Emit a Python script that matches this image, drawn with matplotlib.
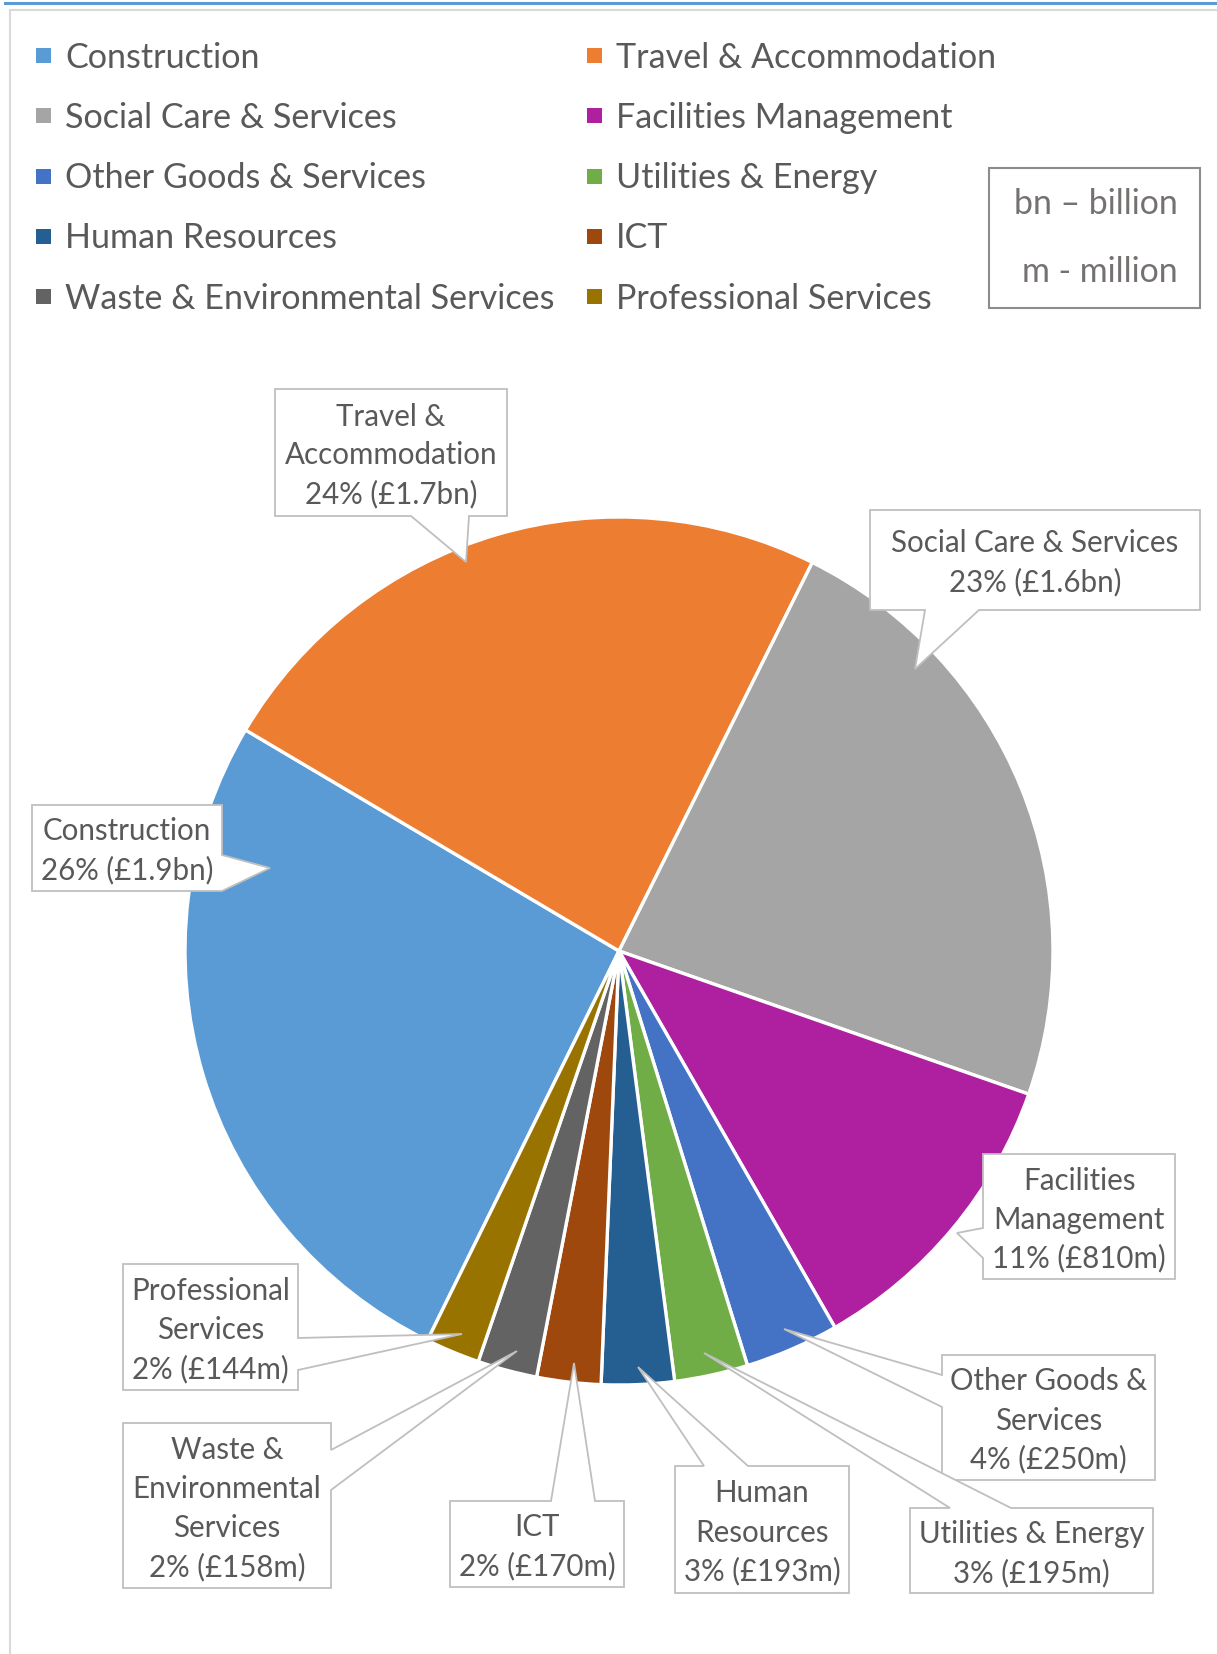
import matplotlib
matplotlib.use("Agg")
import matplotlib.pyplot as plt
from matplotlib.patches import Rectangle, Polygon
from matplotlib.lines import Line2D

# ---------------- data ----------------
categories = ["Construction", "Travel & Accommodation", "Social Care & Services",
              "Facilities Management", "Other Goods & Services", "Utilities & Energy",
              "Human Resources", "ICT", "Waste & Environmental Services",
              "Professional Services"]
spend_m = [1870, 1700, 1640, 810, 250, 195, 193, 170, 158, 144]
colors = ["#5B9BD5", "#ED7D31", "#A5A5A5", "#AE20A0", "#4472C4",
          "#70AD47", "#255E91", "#9E480E", "#636363", "#997300"]
label_names = [["Construction"], ["Travel &", "Accommodation"], ["Social Care & Services"],
               ["Facilities", "Management"], ["Other Goods &", "Services"],
               ["Utilities & Energy"], ["Human", "Resources"], ["ICT"],
               ["Waste &", "Environmental", "Services"], ["Professional", "Services"]]
units_lines = ["bn \u2013 billion", "m - million"]

# ---------------- layout ----------------
W, H = 1217, 1654
FONT = ["Lato", "DejaVu Sans"]
TXT = "#595959"
plt.rcParams["font.family"] = FONT
DY = 3  # small downward text shift (pixels)

def Y(y):
    return H - y

fig = plt.figure(figsize=(W / 100, H / 100), dpi=100)
ax = fig.add_axes([0, 0, 1, 1])

# pie
wedges, _ = ax.pie(spend_m, colors=colors, startangle=90 - 206.2, counterclock=False,
                   center=(619, Y(951)), radius=434,
                   wedgeprops=dict(edgecolor="white", linewidth=2.4))
ax.set_xlim(0, W)
ax.set_ylim(0, H)
ax.set_aspect("auto")
ax.axis("off")

fig.canvas.draw()
rend = fig.canvas.get_renderer()

def fit(s, target_px, ref=20.0):
    t = ax.text(0, 0, s, fontsize=ref, family=FONT)
    w = t.get_window_extent(renderer=rend).width
    t.remove()
    return ref * target_px / w

fs_leg = fit("Waste & Environmental Services", 491)
fs_lab = (fit("Environmental", 189) + fit("Accommodation", 212)) / 2
fs_unit = fit("bn \u2013 billion", 165)

# chart frame lines
ax.add_line(Line2D([5, W], [Y(2.5), Y(2.5)], color="#5B9BD5", lw=2.2, zorder=1))
ax.add_line(Line2D([10, W], [Y(9.5), Y(9.5)], color="#D9D9D9", lw=1.5, zorder=1))
ax.add_line(Line2D([10, 10], [Y(9.5), 0], color="#D9D9D9", lw=1.5, zorder=1))

# legend (row-wise, two columns)
for i, (name, c) in enumerate(zip(categories, colors)):
    row, col = divmod(i, 2)
    yc = 55.5 + row * 60.3
    mx = 36 if col == 0 else 587
    ax.add_patch(Rectangle((mx, Y(yc) - 7.5), 15, 15, facecolor=c, edgecolor="none", zorder=3))
    ax.text(mx + 29, Y(yc + 2), name, fontsize=fs_leg, color=TXT, va="center", ha="left", zorder=3)

# units box
ax.add_patch(Rectangle((989, Y(308)), 211, 140, facecolor="white", edgecolor="#8C8C8C",
                       lw=1.5, zorder=3))
for s, yc in zip(units_lines, [204, 272]):
    ax.text(1178, Y(yc), s, fontsize=fs_unit, color="#767171", va="center", ha="right", zorder=4)

# callout layout: box (x0, y0, x1, y1), edge, base points, tip  (pixel coords)
callouts = [
    ((32, 805, 222, 891), "right", [(222, 855), (222, 891)], (270, 868)),
    ((275, 389, 507, 516), "bottom", [(411, 516), (469, 516)], (466, 562)),
    ((870, 510, 1200, 610), "bottom", [(925, 610), (979, 610)], (915, 669)),
    ((983, 1154, 1175, 1279), "left", [(983, 1228), (983, 1258)], (957, 1233)),
    ((942, 1355, 1155, 1480), "left", [(942, 1375), (942, 1407)], (784, 1329)),
    ((910, 1508, 1153, 1593), "top", [(950, 1508), (1011, 1508)], (704, 1353)),
    ((675, 1466, 849, 1593), "top", [(704, 1466), (748, 1466)], (638, 1367)),
    ((450, 1501, 624, 1587), "top", [(551, 1501), (595, 1501)], (574, 1363)),
    ((123, 1423, 331, 1588), "right", [(331, 1450), (331, 1490)], (517, 1351)),
    ((123, 1264, 298, 1390), "right", [(298, 1338), (298, 1370)], (462, 1334)),
]

def callout_poly(box, edge, bases, tip):
    x0, y0, x1, y1 = box
    pts = [(x0, y0)]
    def ins(key, rev):
        b = sorted(bases, key=key, reverse=rev)
        return [b[0], tip, b[1]]
    if edge == "top":
        pts += ins(lambda p: p[0], False)
    pts.append((x1, y0))
    if edge == "right":
        pts += ins(lambda p: p[1], False)
    pts.append((x1, y1))
    if edge == "bottom":
        pts += ins(lambda p: p[0], True)
    pts.append((x0, y1))
    if edge == "left":
        pts += ins(lambda p: p[1], True)
    return [(x, Y(y)) for x, y in pts]

total = sum(spend_m)
for v, names, (box, edge, bases, tip) in zip(spend_m, label_names, callouts):
    pct = v / total * 100
    money = f"\u00a3{v / 1000:.1f}bn" if v >= 1000 else f"\u00a3{v}m"
    lines = names + [f"{pct:.0f}% ({money})"]
    ax.add_patch(Polygon(callout_poly(box, edge, bases, tip), closed=True,
                         facecolor="white", edgecolor="#BFBFBF", lw=1.3, zorder=5))
    x0, y0, x1, y1 = box
    cx, cy = (x0 + x1) / 2, (y0 + y1) / 2
    n = len(lines)
    for k, s in enumerate(lines):
        yy = cy + (k - (n - 1) / 2) * 39 + DY
        ax.text(cx, Y(yy), s, fontsize=fs_lab, color=TXT, ha="center", va="center", zorder=6)

fig.savefig("out.png", dpi=100, facecolor="white")
